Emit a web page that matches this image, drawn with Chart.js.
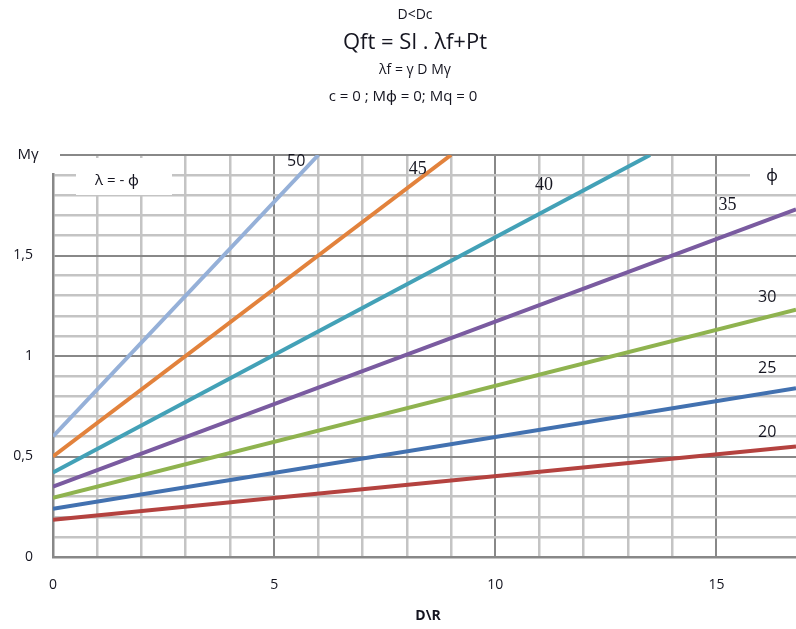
<!DOCTYPE html>
<html>
<head>
<meta charset="utf-8">
<script src="https://cdn.jsdelivr.net/npm/chart.js@4.4.1/dist/chart.umd.min.js"></script>
<style>
  html, body { margin: 0; padding: 0; background: #fff; }
  #wrap { width: 796px; height: 629px; }
</style>
</head>
<body>
<div id="wrap"><canvas id="chart" width="796" height="629"></canvas></div>
<script>
// ─── Data ────────────────────────────────────────────────────────────────────
const PHI      = ["50", "45", "40", "35", "30", "25", "20"];
const X_START  = [0, 0, 0, 0, 0, 0, 0];
const Y_START  = [0.60, 0.50, 0.42, 0.35, 0.295, 0.24, 0.185];
const X_END    = [6.0, 9.0, 13.5, 16.8, 16.8, 16.8, 16.8];
const Y_END    = [2.0, 2.0, 2.0, 1.73, 1.23, 0.84, 0.55];

// where the φ numbers sit (data units)
const LABEL_X  = [5.5, 8.25, 11.1, 15.25, 16.15, 16.15, 16.15];
const LABEL_Y  = [1.97, 1.93, 1.85, 1.75, 1.29, 0.94, 0.62];

const X_TICKS  = [0, 5, 10, 15];
const Y_TICKS  = [0, 0.5, 1, 1.5];
const X_MAX    = 16.8;
const Y_MAX    = 2.0;

const COLORS = ["#95b0d8", "#e2823c", "#43a1b7", "#7a5ba0", "#8fb34f", "#4271b0", "#b4423f"];
const SERIF  = [false, true, true, true, false, false, false];

const SANS = "'Open Sans', 'Noto Sans', sans-serif";
const INK  = "#151520";

const isMajor = (v, step) => Math.abs(v / step - Math.round(v / step)) < 1e-6;

// ─── Extra drawing: title, white boxes, labels ───────────────────────────────
const decor = {
    id: "decor",
    beforeDatasetsDraw(chart) {
        const { ctx } = chart;
        ctx.save();
        ctx.fillStyle = "#fff";
        // text box "λ = - ϕ" and the corner it hides
        ctx.fillRect(44, 150, 16, 23);
        ctx.fillRect(44, 158, 128, 15);
        ctx.fillRect(76, 158, 96, 37);
        // box round the ϕ heading
        ctx.fillRect(750, 158, 46, 34);
        ctx.restore();
    },
    afterDatasetsDraw(chart) {
        const { ctx, scales: { x, y } } = chart;
        ctx.save();
        ctx.textAlign = "center";
        ctx.textBaseline = "middle";
        ctx.fillStyle = INK;

        ctx.font = `14px ${SANS}`;
        ctx.fillText("D<Dc", 415, 15);
        ctx.font = `22px ${SANS}`;
        ctx.fillText("Qft = Sl . λf+Pt", 415, 43);
        ctx.font = `14px ${SANS}`;
        ctx.fillText("λf = γ D Mγ", 415, 70);
        ctx.font = `15px ${SANS}`;
        ctx.fillText("c = 0 ; Mϕ = 0; Mq = 0", 403, 97);

        ctx.font = `15px ${SANS}`;
        ctx.fillText("Mγ", 28, 155);
        ctx.font = `15px ${SANS}`;
        ctx.fillText("λ = - ϕ", 117, 181);
        ctx.font = `16px ${SANS}`;
        ctx.fillText("ϕ", 772, 176);

        ctx.font = `bold 14px ${SANS}`;
        ctx.fillText("D\\R", 428, 616);

        PHI.forEach((name, i) => {
            ctx.font = SERIF[i] ? `18px 'Liberation Serif', serif` : `16px ${SANS}`;
            ctx.fillText(name, x.getPixelForValue(LABEL_X[i]), y.getPixelForValue(LABEL_Y[i]));
        });
        ctx.restore();
    },
};

// ─── Chart ───────────────────────────────────────────────────────────────────
const datasets = PHI.map((name, i) => ({
    label: name,
    data: [{ x: X_START[i], y: Y_START[i] }, { x: X_END[i], y: Y_END[i] }],
    showLine: true,
    borderColor: COLORS[i],
    backgroundColor: COLORS[i],
    borderWidth: 4,
    pointRadius: 0,
    fill: false,
}));

new Chart(document.getElementById("chart"), {
    type: "scatter",
    data: { datasets },
    options: {
        responsive: false,
        animation: false,
        layout: { padding: { top: 155, right: 0, bottom: 0, left: 0 } },
        plugins: { legend: { display: false }, tooltip: { enabled: false } },
        scales: {
            x: {
                type: "linear",
                min: 0,
                max: X_MAX,
                afterBuildTicks: s => { s.ticks = s.ticks.filter(t => isMajor(t.value, 1)); },
                afterFit: s => { s.height = 72; },
                ticks: {
                    stepSize: 1,
                    padding: 20,
                    color: INK,
                    font: { size: 14, family: SANS },
                    callback: v => X_TICKS.some(t => Math.abs(v - t) < 1e-6) ? String(v) : "",
                },
                grid: {
                    drawTicks: false,
                    color: c => isMajor(c.tick.value, 5) ? "#888" : "#c4c4c4",
                    lineWidth: c => isMajor(c.tick.value, 5) ? 2 : 2.5,
                },
                border: { color: "#888", width: 2.5 },
            },
            y: {
                type: "linear",
                min: 0,
                max: Y_MAX,
                afterFit: s => { s.width = 53; },
                ticks: {
                    stepSize: 0.1,
                    padding: 20,
                    color: INK,
                    font: { size: 14, family: SANS },
                    autoSkip: false,
                    callback: v => {
                        const t = Y_TICKS.find(t => Math.abs(v - t) < 1e-6);
                        return t === undefined ? "" : String(t).replace(".", ",");
                    },
                },
                grid: {
                    drawTicks: false,
                    color: c => isMajor(c.tick.value, 0.5) ? "#888" : "#c4c4c4",
                    lineWidth: c => isMajor(c.tick.value, 0.5) ? 2 : 2.5,
                },
                border: { color: "#888", width: 2.5 },
            },
        },
    },
    plugins: [decor],
});
</script>
</body>
</html>
